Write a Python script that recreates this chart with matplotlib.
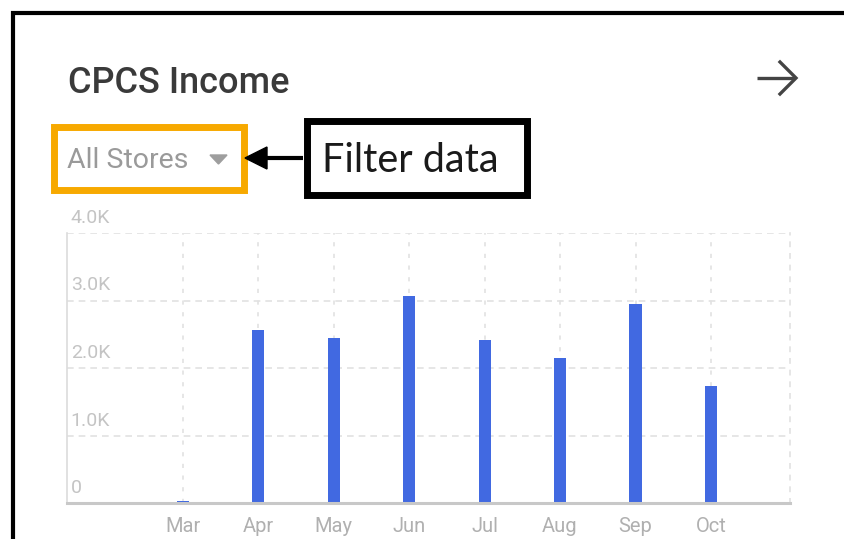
import matplotlib.pyplot as plt
from matplotlib.lines import Line2D
from matplotlib.patches import Rectangle, Polygon
from matplotlib.transforms import blended_transform_factory

months = ['Mar', 'Apr', 'May', 'Jun', 'Jul', 'Aug', 'Sep', 'Oct']
income = [30, 2560, 2440, 3070, 2410, 2150, 2950, 1730]
y_ticks = [0, 1000, 2000, 3000, 4000]
y_labels = ['0', '1.0K', '2.0K', '3.0K', '4.0K']

W, H = 844, 539


def fx(px):
    return px / W


def fy(py):
    return 1 - py / H


fig = plt.figure(figsize=(W / 100, H / 100), dpi=100)
fig.patch.set_facecolor('white')

# plot area in pixels: x 66.7..790, y 233..503
ax = fig.add_axes([fx(66.7), fy(503), fx(790) - fx(66.7), fy(233) - fy(503)])
x = list(range(len(months)))
ax.bar(x, income, width=0.16, color='#4169e1', zorder=3)
ax.set_xlim(-1.537, 8.047)
ax.set_ylim(0, 4000)

ax.set_yticks(y_ticks)
ax.set_yticklabels([])
ax.tick_params(axis='y', length=0)
ax.set_xticks(x)
ax.set_xticklabels(months, fontsize=14.5, color='#b0b0b0', family='Roboto')
ax.tick_params(axis='x', length=0, pad=10)

for yv in y_ticks[1:]:
    ax.axhline(yv, color='#e2e2e2', lw=1.2, dashes=(4, 3), zorder=1)
for xv in x:
    ax.axvline(xv, color='#e2e2e2', lw=1.2, dashes=(2.5, 4.5), zorder=1)

ax.spines['top'].set_visible(False)
ax.spines['right'].set_color('#e2e2e2')
ax.spines['right'].set_linestyle((0, (2.5, 4.5)))
ax.spines['right'].set_linewidth(1.2)
ax.spines['left'].set_color('#dcdcdc')
ax.spines['left'].set_linewidth(1.2)
ax.spines['bottom'].set_color('#c8c8c8')
ax.spines['bottom'].set_linewidth(2.2)
ax.spines['bottom'].set_zorder(4)

trans = blended_transform_factory(ax.transAxes, ax.transData)
for yv, lab in zip(y_ticks, y_labels):
    ax.annotate(lab, xy=(0, yv), xycoords=trans, xytext=(4, 6),
                textcoords='offset pixels', fontsize=14, color='#c4c4c4',
                family='Roboto', ha='left', va='bottom')

# title and arrow
fig.text(fx(68), fy(93), 'CPCS Income', fontsize=26, color='#3a3a3a',
         family='Roboto', fontweight='medium', ha='left', va='baseline')
arrow_col = '#444444'
fig.add_artist(Line2D([fx(757), fx(795)], [fy(78), fy(78)], color=arrow_col,
                      lw=2.4, solid_capstyle='butt'))
fig.add_artist(Line2D([fx(780), fx(796), fx(780)], [fy(62), fy(78), fy(94)],
                      color=arrow_col, lw=2.4, solid_joinstyle='miter'))

# dropdown with orange highlight
fig.text(fx(67), fy(168), 'All Stores', fontsize=20.5, color='#9a9a9a',
         family='Roboto', ha='left', va='baseline')
fig.add_artist(Polygon([[fx(210), fy(155)], [fx(227), fy(155)], [fx(218.5), fy(164)]],
                       closed=True, color='#9e9e9e', transform=fig.transFigure))
fig.add_artist(Rectangle((fx(53.5), fy(189.5)), fx(243.5) - fx(53.5), fy(126.5) - fy(189.5),
                         fill=False, edgecolor='#f7a900', lw=5, transform=fig.transFigure))

# callout box
fig.add_artist(Rectangle((fx(306.5), fy(194.5)), fx(526.5) - fx(306.5), fy(121.5) - fy(194.5),
                         fill=False, edgecolor='black', lw=5, transform=fig.transFigure))
fig.text(fx(322), fy(172), 'Filter data', fontsize=28.5, color='#1a1a1a',
         family='Lato', ha='left', va='baseline')
fig.add_artist(Line2D([fx(303), fx(262)], [fy(158), fy(158)], color='black',
                      lw=3, solid_capstyle='butt'))
fig.add_artist(Polygon([[fx(245), fy(158)], [fx(267), fy(147)], [fx(267), fy(169)]],
                       closed=True, color='black', transform=fig.transFigure))

# outer frame (left and top edges)
fig.add_artist(Line2D([fx(13), fx(13), fx(844)], [fy(539), fy(13), fy(13)],
                      color='black', lw=3, solid_joinstyle='miter'))

fig.savefig('out.png', dpi=100)
